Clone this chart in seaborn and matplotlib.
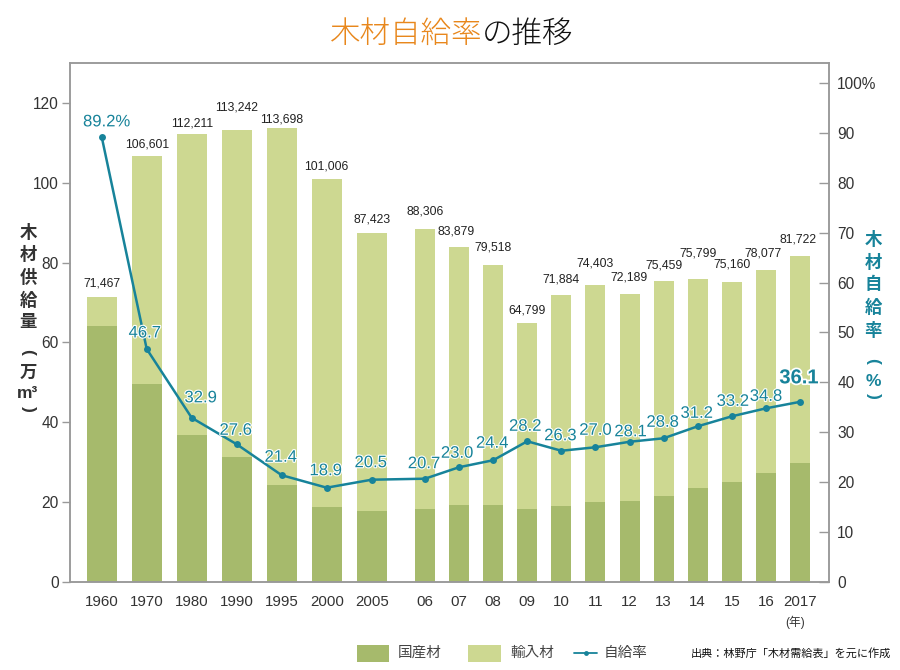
import matplotlib
matplotlib.use('Agg')
import matplotlib.pyplot as plt
import matplotlib.patheffects as pe
from matplotlib.patches import Rectangle
from matplotlib.lines import Line2D
import seaborn as sns
import pandas as pd
import numpy as np

# ---------------- data ----------------
years = ['1960', '1970', '1980', '1990', '1995', '2000', '2005', '06', '07', '08',
         '09', '10', '11', '12', '13', '14', '15', '16', '2017']
total_supply = [71467, 106601, 112211, 113242, 113698, 101006, 87423, 88306, 83879,
                79518, 64799, 71884, 74403, 72189, 75459, 75799, 75160, 78077, 81722]
domestic_supply = [64.0, 49.7, 36.9, 31.2, 24.2, 18.9, 17.9, 18.3, 19.3, 19.4,
                   18.4, 19.0, 20.1, 20.3, 21.6, 23.6, 25.0, 27.2, 29.8]
self_rate = [89.2, 46.7, 32.9, 27.6, 21.4, 18.9, 20.5, 20.7, 23.0, 24.4, 28.2,
             26.3, 27.0, 28.1, 28.8, 31.2, 33.2, 34.8, 36.1]
left_ticks = [0, 20, 40, 60, 80, 100, 120]
right_ticks = [0, 10, 20, 30, 40, 50, 60, 70, 80, 90, 100]
right_tick_labels = ['0', '10', '20', '30', '40', '50', '60', '70', '80', '90', '100%']
legend_labels = ['国産材', '輸入材', '自給率']

# ---------------- layout (pixel-like x scale) ----------------
xpos = [101.7 + 45 * i for i in range(7)] + [425 + 34.09 * i for i in range(12)]
bar_lbl_dy = [13, 12, 11, 22, 9, 12, 13, 18, 16, 17, 13, 16, 21, 16, 15, 26, 17, 17, 16]
bar_lbl_dx = [0, 0, 0, 0, 0, 0, 0, 0, -3, 0, 0, 0, 0, 0, 0, 0, 0, -3, -2]
rate_lbl_dy = [15, 16, 20, 14, 18, 17, 17, 15, 14, 17, 15, 15, 17, 10, 16, 13, 15, 12, 24]
rate_lbl_dx = [5, -2, 9, -1, -1, -1, -1, -1, -2, -1, -2, -1, 0, 1, -1, -1, 1, 0, -1]

DARK = '#a6ba6c'
LIGHT = '#cdd891'
TEAL = '#17839a'
ORANGE = '#e8871c'
GRAY = '#999999'
TXT = '#333333'

sns.set_style('white')
plt.rcParams['font.family'] = ['Liberation Sans', 'Noto Sans CJK JP', 'DejaVu Sans']

W, H = 900, 670
fig = plt.figure(figsize=(9, 6.7), dpi=100)
ax = fig.add_axes([70 / W, 1 - 582 / H, (829 - 70) / W, (582 - 63) / H])

df = pd.DataFrame({'x': xpos,
                   'total': np.array(total_supply) / 1000.0,
                   'domestic': domestic_supply,
                   'rate': self_rate})
groups = [(df.iloc[:7], 30 / 45), (df.iloc[7:], 20 / 34.09)]
for sub, w in groups:
    sns.barplot(data=sub, x='x', y='total', native_scale=True, orient='x', width=w,
                color=LIGHT, saturation=1, errorbar=None, linewidth=0, ax=ax, zorder=1)
    sns.barplot(data=sub, x='x', y='domestic', native_scale=True, orient='x', width=w,
                color=DARK, saturation=1, errorbar=None, linewidth=0, ax=ax, zorder=2)

ax.set_xlim(70, 829)
ax.set_ylim(0, 130)
ax.set_xlabel('')
ax.set_ylabel('')
ax.set_xticks(xpos)
ax.set_xticklabels(years)
ax.set_yticks(left_ticks)
ax.tick_params(axis='x', length=0, pad=9, labelsize=10.8, labelcolor=TXT)
ax.tick_params(axis='y', direction='out', length=6, width=1, color=GRAY, pad=2,
               labelsize=11.2, labelcolor=TXT)
for s in ax.spines.values():
    s.set_color(GRAY)
    s.set_linewidth(1.1)

# bar total labels
for x, t, dy, dx in zip(xpos, total_supply, bar_lbl_dy, bar_lbl_dx):
    ax.annotate(f'{t:,}', xy=(x, t / 1000.0), xytext=(dx, dy), textcoords='offset pixels',
                ha='center', va='center', fontsize=8.8, color='#222222')

# self-sufficiency line
ax2 = ax.twinx()
sns.lineplot(data=df, x='x', y='rate', ax=ax2, color=TEAL, linewidth=1.8,
             marker='o', markersize=5, markeredgewidth=0, zorder=5)
ax2.set_ylim(0, 104)
ax2.set_xlim(70, 829)
ax2.set_xlabel('')
ax2.set_ylabel('')
ax2.set_yticks(right_ticks)
ax2.set_yticklabels(right_tick_labels)
ax2.tick_params(axis='y', direction='in', length=7, width=1, color=GRAY, pad=6,
                labelsize=11.2, labelcolor=TXT)
for s in ax2.spines.values():
    s.set_color(GRAY)
    s.set_linewidth(1.1)

n = len(self_rate)
for i, (x, r, dy, dx) in enumerate(zip(xpos, self_rate, rate_lbl_dy, rate_lbl_dx)):
    txt = f'{r}%' if i == 0 else f'{r:.1f}'
    fs, fw, sw = 12, 'normal', 1.6
    if i == n - 1:
        fs, fw, sw = 14.5, 'bold', 2.5
    ax2.annotate(txt, xy=(x, r), xytext=(dx, dy), textcoords='offset pixels',
                 ha='center', va='center', fontsize=fs, fontweight=fw, color=TEAL,
                 path_effects=[pe.withStroke(linewidth=sw, foreground='white')],
                 zorder=6)

# title (two colours)
fig.text(482 / W, 1 - 35 / H, '木材自給率', ha='right', va='center', fontsize=22,
         color=ORANGE, fontweight='light')
fig.text(482 / W, 1 - 35 / H, 'の推移', ha='left', va='center', fontsize=22,
         color='#111111', fontweight='light')

# vertical axis titles
left_chars = [('木', 232), ('材', 254), ('供', 277), ('給', 300), ('量', 323),
              ('(', 352), ('万', 373), ('m³', 393), (')', 409)]
for ch, y in left_chars:
    rot = -90 if ch in '()' else 0
    fig.text(28 / W, 1 - y / H, ch, ha='center', va='center', fontsize=12.5,
             fontweight='bold', color=TXT, rotation=rot)
right_chars = [('木', 240), ('材', 262), ('自', 284), ('給', 307), ('率', 330),
               ('(', 361), ('%', 381), (')', 396)]
for ch, y in right_chars:
    rot = -90 if ch in '()' else 0
    fig.text(873 / W, 1 - y / H, ch, ha='center', va='center', fontsize=12.5,
             fontweight='bold', color=TEAL, rotation=rot)

fig.text(795 / W, 1 - 622 / H, '(年)', ha='center', va='center', fontsize=8.5, color=TXT)

# legend (drawn in figure pixel space)
ly = 653
fig.add_artist(Rectangle((357 / W, 1 - 662 / H), 32 / W, 17 / H, transform=fig.transFigure,
                         facecolor=DARK, edgecolor='none'))
fig.add_artist(Rectangle((468 / W, 1 - 662 / H), 33 / W, 17 / H, transform=fig.transFigure,
                         facecolor=LIGHT, edgecolor='none'))
fig.add_artist(Line2D([574 / W, 597 / W], [1 - ly / H, 1 - ly / H], transform=fig.transFigure,
                      color=TEAL, linewidth=1.3))
fig.add_artist(Line2D([585.5 / W], [1 - ly / H], transform=fig.transFigure, color=TEAL,
                      marker='o', markersize=3.5, markeredgewidth=0, linestyle='none'))
for lbl, lx in zip(legend_labels, [398, 510, 604]):
    fig.text(lx / W, 1 - ly / H, lbl, ha='left', va='center', fontsize=10.5, color='#444444')

fig.text(891 / W, 1 - 653 / H, '出典：林野庁「木材需給表」を元に作成', ha='right', va='center',
         fontsize=8, color='#111111')

fig.savefig('out.png', dpi=100)
